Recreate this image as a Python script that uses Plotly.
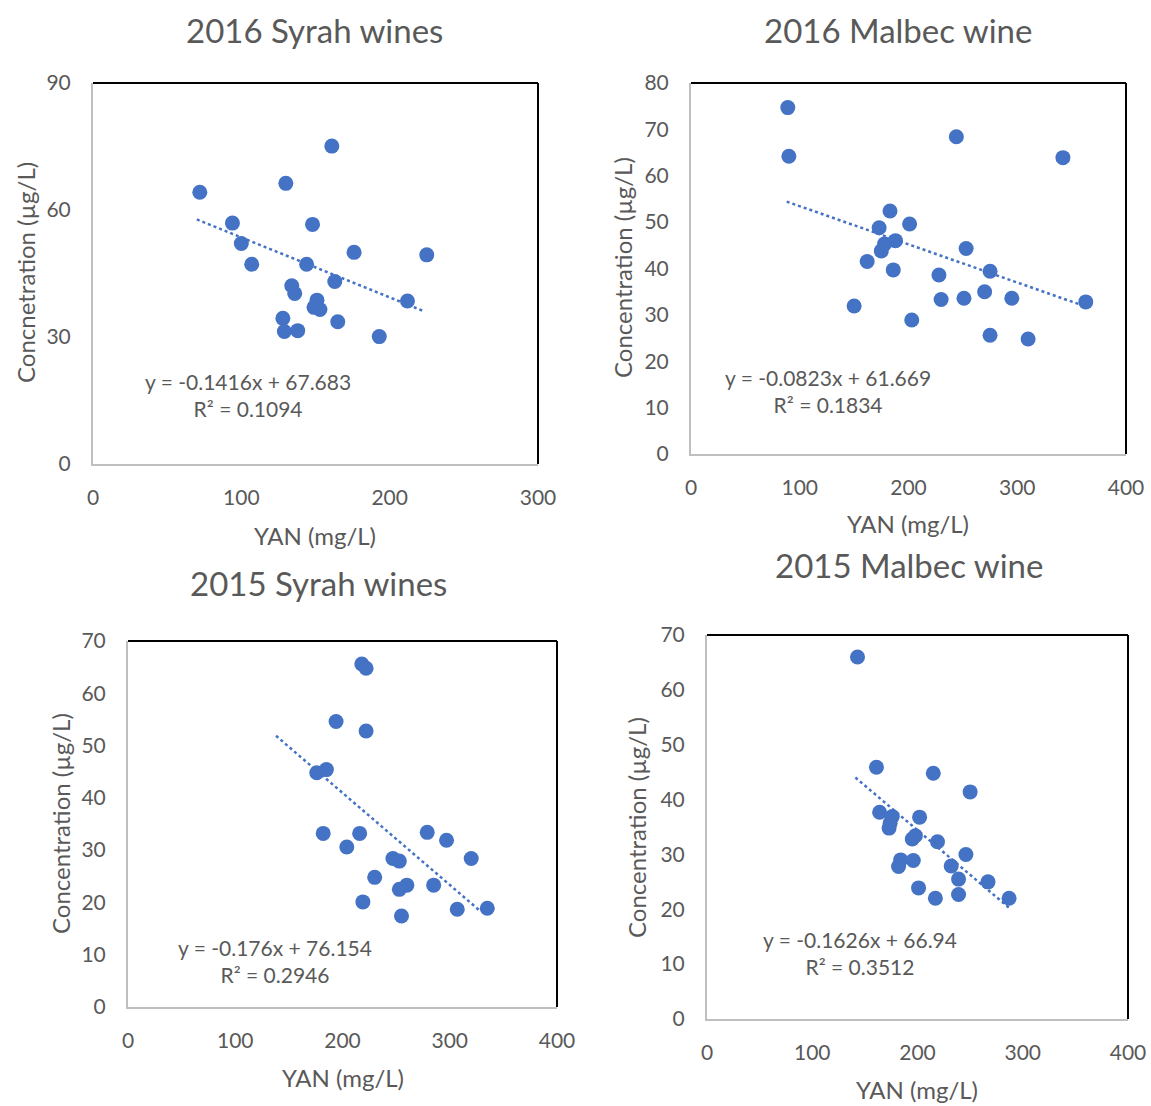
import plotly.graph_objects as go

# ---------------- data ----------------
titles = ["2016 Syrah wines", "2016 Malbec wine", "2015 Syrah wines", "2015 Malbec wine"]
y_titles = ["Concnetration (µg/L)", "Concentration (µg/L)", "Concentration (µg/L)", "Concentration (µg/L)"]
x_title = "YAN (mg/L)"

syrah16_x = [72, 130, 161, 94, 100, 107, 148, 144, 176, 225, 163, 134, 136, 151, 149, 153, 212, 128, 165, 129, 138, 193]
syrah16_y = [64.2, 66.3, 75.1, 56.9, 52.1, 47.2, 56.6, 47.2, 50.0, 49.4, 43.1, 42.1, 40.3, 38.7, 37.0, 36.5, 38.5, 34.4, 33.6, 31.3, 31.5, 30.1]

malbec16_x = [89, 90, 244, 342, 183, 173, 201, 188, 178, 175, 162, 186, 253, 228, 275, 150, 230, 251, 270, 295, 363, 203, 275, 310]
malbec16_y = [74.7, 64.2, 68.4, 63.9, 52.4, 48.8, 49.6, 46.0, 45.3, 43.8, 41.5, 39.7, 44.3, 38.6, 39.4, 31.9, 33.3, 33.6, 35.0, 33.6, 32.8, 28.9, 25.6, 24.8]

syrah15_x = [218, 222, 194, 222, 176, 185, 182, 216, 204, 279, 297, 320, 247, 253, 230, 253, 260, 285, 219, 255, 307, 335]
syrah15_y = [65.6, 64.8, 54.6, 52.8, 44.8, 45.4, 33.2, 33.2, 30.6, 33.4, 31.9, 28.4, 28.4, 27.9, 24.8, 22.5, 23.3, 23.3, 20.1, 17.4, 18.7, 18.9]

malbec15_x = [143, 161, 215, 250, 164, 176, 174, 173, 202, 198, 195, 219, 246, 184, 182, 196, 232, 239, 267, 201, 217, 239, 287]
malbec15_y = [66.0, 45.9, 44.8, 41.4, 37.7, 36.9, 35.7, 34.8, 36.8, 33.4, 32.8, 32.3, 30.0, 29.0, 27.8, 28.9, 27.9, 25.5, 25.0, 23.9, 22.0, 22.7, 22.0]

slopes = [-0.1416, -0.0823, -0.176, -0.1626]
intercepts = [67.683, 61.669, 76.154, 66.94]
r2_values = [0.1094, 0.1834, 0.2946, 0.3512]
trend_x_ranges = [[70, 222], [88, 363], [138, 328], [141, 287]]

x_ranges = [[0, 300], [0, 400], [0, 400], [0, 400]]
y_ranges = [[0, 90], [0, 80], [0, 70], [0, 70]]
x_tick_vals = [[0, 100, 200, 300], [0, 100, 200, 300, 400], [0, 100, 200, 300, 400], [0, 100, 200, 300, 400]]
y_tick_vals = [[0, 30, 60, 90], list(range(0, 81, 10)), list(range(0, 71, 10)), list(range(0, 71, 10))]

xs = [syrah16_x, malbec16_x, syrah15_x, malbec15_x]
ys = [syrah16_y, malbec16_y, syrah15_y, malbec15_y]

# ---------------- layout geometry (pixels in 1151x1106 page) ----------------
W, H = 1151, 1106
boxes = [  # left, top, right, bottom
    (93, 83, 538, 464),
    (691, 83, 1126, 454),
    (128, 641, 557, 1007),
    (707, 635, 1128, 1019),
]
title_pos = [(314, 30), (898, 30), (318, 583), (909, 565)]
xtitle_pos = [(315, 535), (908, 523), (343, 1077), (917, 1089)]
ytitle_pos = [(25, 273), (622, 268), (60, 823), (636, 828)]
eq_pos = [(248, 381), (828, 377), (275, 947), (860, 939)]

BLUE = "#4472C4"
GRAY = "#595959"
FONT = "Lato"

fig = go.Figure()
annotations = []
shapes = []

for i in range(4):
    n = "" if i == 0 else str(i + 1)
    xa, ya = "x" + n, "y" + n
    fig.add_trace(go.Scatter(
        x=xs[i], y=ys[i], mode="markers", xaxis=xa, yaxis=ya,
        marker=dict(color=BLUE, size=15), showlegend=False))
    tx = trend_x_ranges[i]
    ty = [slopes[i] * v + intercepts[i] for v in tx]
    fig.add_trace(go.Scatter(
        x=tx, y=ty, mode="lines", xaxis=xa, yaxis=ya,
        line=dict(color=BLUE, width=2.5, dash="dot"), showlegend=False))

    l, t, r, b = boxes[i]
    dom_x = [l / W, r / W]
    dom_y = [1 - b / H, 1 - t / H]
    fig.layout["xaxis" + n] = dict(
        domain=dom_x, range=x_ranges[i], tickvals=x_tick_vals[i], anchor=ya, automargin=False,
        showgrid=False, zeroline=False, showline=True, linecolor="#BFBFBF", linewidth=2,
        ticks="", tickfont=dict(family=FONT, size=21, color=GRAY), ticklabelstandoff=14)
    fig.layout["yaxis" + n] = dict(
        domain=dom_y, range=y_ranges[i], tickvals=y_tick_vals[i], anchor=xa, automargin=False,
        showgrid=False, zeroline=False, showline=True, linecolor="#BFBFBF", linewidth=2,
        ticks="", tickfont=dict(family=FONT, size=21, color=GRAY), ticklabelstandoff=16)

    # top / right black border
    shapes.append(dict(type="line", xref=xa + " domain", yref=ya + " domain",
                       x0=0, x1=1, y0=1, y1=1, line=dict(color="black", width=2)))
    shapes.append(dict(type="line", xref=xa + " domain", yref=ya + " domain",
                       x0=1, x1=1, y0=0, y1=1, line=dict(color="black", width=2)))

    px, py = title_pos[i]
    annotations.append(dict(text=titles[i], x=px / W, y=1 - py / H, xref="paper", yref="paper",
                            showarrow=False, font=dict(family=FONT, size=33, color=GRAY),
                            xanchor="center", yanchor="middle"))
    px, py = xtitle_pos[i]
    annotations.append(dict(text=x_title, x=px / W, y=1 - py / H, xref="paper", yref="paper",
                            showarrow=False, font=dict(family=FONT, size=24, color=GRAY),
                            xanchor="center", yanchor="middle"))
    px, py = ytitle_pos[i]
    annotations.append(dict(text=y_titles[i], x=px / W, y=1 - py / H, xref="paper", yref="paper",
                            showarrow=False, textangle=-90, font=dict(family=FONT, size=24, color=GRAY),
                            xanchor="center", yanchor="middle"))
    px, py = eq_pos[i]
    eq_text = f"y = {slopes[i]}x + {intercepts[i]}<br>R² = {r2_values[i]}"
    annotations.append(dict(text=eq_text, x=px / W, y=1 - (py + 14) / H, xref="paper", yref="paper",
                            showarrow=False, align="center", font=dict(family=FONT, size=21, color=GRAY),
                            xanchor="center", yanchor="middle"))

fig.update_layout(
    width=W, height=H, margin=dict(l=0, r=0, t=0, b=0, autoexpand=False),
    paper_bgcolor="white", plot_bgcolor="white",
    annotations=annotations, shapes=shapes,
)

fig.write_html("out.html")
